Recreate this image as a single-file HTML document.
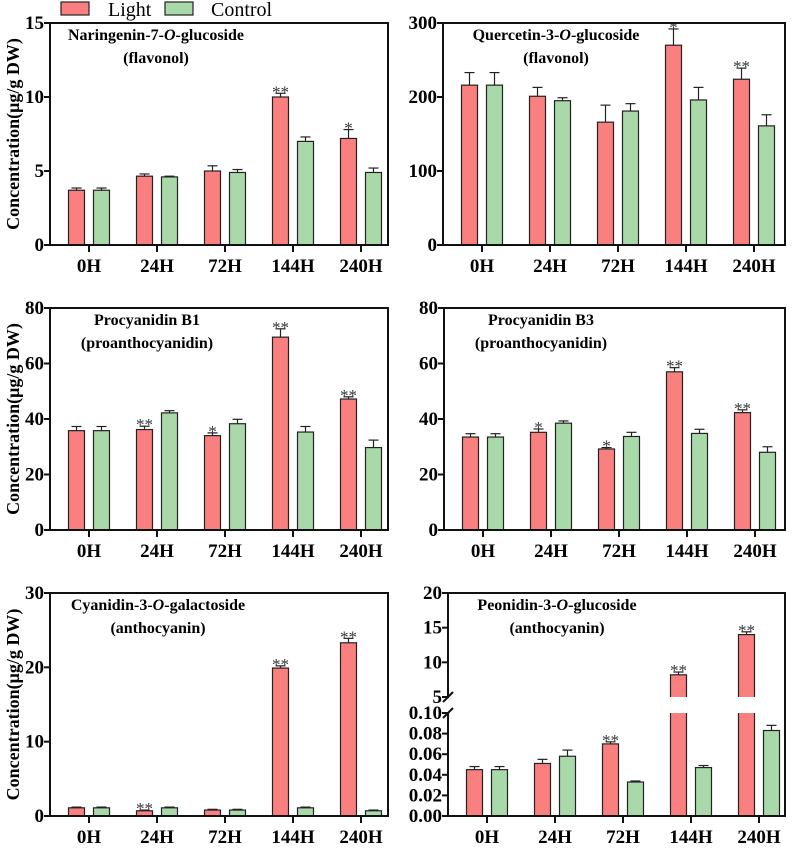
<!DOCTYPE html>
<html><head><meta charset="utf-8"><style>
html,body{margin:0;padding:0;background:#fff;}
svg, svg text{font-family:"Liberation Serif","DejaVu Serif",serif;}
</style></head><body>
<svg id="fig" width="792" height="846" viewBox="0 0 792 846" xmlns="http://www.w3.org/2000/svg">
  <g>
    <rect x="61" y="2" width="28" height="13" fill="#fa8080" stroke="#222" stroke-width="1.2"/>
    <text x="108" y="16" font-size="20" font-family="Liberation Serif, serif">Light</text>
    <rect x="165" y="2" width="28" height="13" fill="#a9d9a9" stroke="#222" stroke-width="1.2"/>
    <text x="211" y="16" font-size="20" font-family="Liberation Serif, serif">Control</text>
  </g>
</svg>
<script>
const categories=["0H","24H","72H","144H","240H"];
// Panel 1 Naringenin
const p1Light=[3.7,4.65,5.0,10.0,7.2], p1LightErr=[0.15,0.15,0.35,0.25,0.6];
const p1Ctrl=[3.7,4.6,4.9,7.0,4.9], p1CtrlErr=[0.15,0.05,0.2,0.3,0.3];
const p1Stars=["","","","**","*"];
const p1Ticks=[0,5,10,15];
// Panel 2 Quercetin
const p2Light=[216,201,166,270,224], p2LightErr=[17,12,23,22,15];
const p2Ctrl=[216,195,181,196,161], p2CtrlErr=[17,4,10,17,15];
const p2Stars=["","","","*","**"];
const p2Ticks=[0,100,200,300];
// Panel 3 Procyanidin B1
const p3Light=[35.8,36.2,34.0,69.5,47.2], p3LightErr=[1.5,1.2,1.0,3.0,0.8];
const p3Ctrl=[35.8,42.2,38.3,35.3,29.7], p3CtrlErr=[1.5,0.8,1.6,2.0,2.7];
const p3Stars=["","**","*","**","**"];
const p3Ticks=[0,20,40,60,80];
// Panel 4 Procyanidin B3
const p4Light=[33.5,35.2,29.2,57.0,42.3], p4LightErr=[1.2,1.2,0.5,1.5,1.0];
const p4Ctrl=[33.5,38.5,33.7,34.8,28.0], p4CtrlErr=[1.2,0.8,1.5,1.5,2.0];
const p4Stars=["","*","*","**","**"];
const p4Ticks=[0,20,40,60,80];
// Panel 5 Cyanidin
const p5Light=[1.1,0.7,0.8,19.9,23.3], p5LightErr=[0.1,0.1,0.1,0.3,0.6];
const p5Ctrl=[1.1,1.1,0.8,1.1,0.7], p5CtrlErr=[0.1,0.1,0.1,0.1,0.1];
const p5Stars=["","**","","**","**"];
const p5Ticks=[0,10,20,30];
// Panel 6 Peonidin (broken axis)
const p6Light=[0.045,0.051,0.070,8.2,14.0], p6LightErr=[0.003,0.004,0.002,0.4,0.4];
const p6Ctrl=[0.045,0.058,0.033,0.047,0.083], p6CtrlErr=[0.003,0.006,0.001,0.002,0.005];
const p6Stars=["","","**","**","**"];
const p6LowTicks=[0,0.02,0.04,0.06,0.08,0.10];
const p6HighTicks=[5,10,15,20];

const NS="http://www.w3.org/2000/svg";
const FONT="Liberation Serif, DejaVu Serif, serif";
const svg=document.getElementById("fig");
function mk(tag,attrs,parent){const e=document.createElementNS(NS,tag);for(const k in attrs)e.setAttribute(k,attrs[k]);if(tag==="text")e.setAttribute("font-family",FONT);(parent||svg).appendChild(e);return e;}
const RED="#fa8080", GREEN="#a9d9a9";

function panel(cfg){
  const g=mk("g",{});
  
  
  const {L,R,T,B}=cfg;
  const y=cfg.yFn;
  const xc=i=>L+39+i*68;
  const series=[[cfg.light,cfg.lightErr,RED,-12.5,"light"],[cfg.ctrl,cfg.ctrlErr,GREEN,12.5,"control"]];
  series.forEach(([vals,errs,col,off,nm])=>{
    vals.forEach((v,i)=>{
      const cx=xc(i)+off, top=y(v), et=y(v+errs[i]);
      const eb=mk("line",{x1:cx,x2:cx,y1:top,y2:et,stroke:"#222","stroke-width":1.2},g);
      
      
      const ec=mk("line",{x1:cx-5,x2:cx+5,y1:et,y2:et,stroke:"#222","stroke-width":1.2},g);
      
      
      const r=mk("rect",{x:cx-8,y:top,width:16,height:B-top,fill:col,stroke:"#222","stroke-width":1.2},g);
      
      
      if(nm==="light"&&cfg.stars[i]){
        const s=mk("text",{x:cx,y:et+4,"text-anchor":"middle","font-size":17,fill:"#333"},g);
        s.textContent=cfg.stars[i];
        
        
      }
    });
  });
  if(cfg.gap){
    const gr=mk("rect",{x:L+1,y:cfg.gap[0],width:R-L-2,height:cfg.gap[1]-cfg.gap[0],fill:"#fff"},g);
    
    
  }
  const fr=mk("rect",{x:L,y:T,width:R-L,height:B-T,fill:"none",stroke:"#111","stroke-width":2},g);
  
  
  if(cfg.gap){
    mk("rect",{x:L-6,y:cfg.gap[0]+1,width:10,height:cfg.gap[1]-cfg.gap[0]-2,fill:"#fff"},g);
    [cfg.gap[0],cfg.gap[1]].forEach(yy=>{
      const bl=mk("line",{x1:L-5,y1:yy+5,x2:L+5,y2:yy-5,stroke:"#111","stroke-width":2},g);
      
      
    });
  }
  cfg.ticks.forEach(([v,lab])=>{
    const yy=y(v);
    mk("line",{x1:L-6,x2:L,y1:yy,y2:yy,stroke:"#111","stroke-width":2},g);
    const t=mk("text",{x:L-6,y:yy+6,"text-anchor":"end","font-size":19,"font-weight":"bold"},g);
    t.textContent=lab;
    
    
  });
  categories.forEach((c,i)=>{
    mk("line",{x1:xc(i),x2:xc(i),y1:B,y2:B+7,stroke:"#111","stroke-width":2},g);
    const t=mk("text",{x:xc(i),y:B+27,"text-anchor":"middle","font-size":19,"font-weight":"bold"},g);
    t.textContent=c;
    
    
  });
  const t1=mk("text",{x:cfg.tx,y:T+17,"text-anchor":"middle","font-size":16,"font-weight":"bold"},g);
  t1.innerHTML=cfg.t1;
  
  
  const t2=mk("text",{x:cfg.tx,y:T+40,"text-anchor":"middle","font-size":16,"font-weight":"bold"},g);
  t2.textContent=cfg.t2;
  
  
  if(cfg.ylab){
    const cy=(T+B)/2;
    const yl=mk("text",{x:19,y:cy,"text-anchor":"middle","font-size":18,"font-weight":"bold",transform:`rotate(-90 19 ${cy})`},g);
    yl.textContent="Concentration(μg/g DW)";
    
    
  }
}
function lin(T,B,max){return v=>B-(v/max)*(B-T);}
const fmt=v=>String(v);
panel({name:"panel-naringenin",L:50,R:388,T:23,B:245,yFn:lin(23,245,15),ticks:p1Ticks.map(v=>[v,fmt(v)]),light:p1Light,lightErr:p1LightErr,ctrl:p1Ctrl,ctrlErr:p1CtrlErr,stars:p1Stars,tx:156,t1:'Naringenin-7-<tspan font-style="italic">O</tspan>-glucoside',t2:"(flavonol)",ylab:true});
panel({name:"panel-quercetin",L:443,R:785,T:23,B:245,yFn:lin(23,245,300),ticks:p2Ticks.map(v=>[v,fmt(v)]),light:p2Light,lightErr:p2LightErr,ctrl:p2Ctrl,ctrlErr:p2CtrlErr,stars:p2Stars,tx:556,t1:'Quercetin-3-<tspan font-style="italic">O</tspan>-glucoside',t2:"(flavonol)",ylab:false});
panel({name:"panel-procyanidin-b1",L:50,R:388,T:308,B:530,yFn:lin(308,530,80),ticks:p3Ticks.map(v=>[v,fmt(v)]),light:p3Light,lightErr:p3LightErr,ctrl:p3Ctrl,ctrlErr:p3CtrlErr,stars:p3Stars,tx:147,t1:'Procyanidin B1',t2:"(proanthocyanidin)",ylab:true});
panel({name:"panel-procyanidin-b3",L:444,R:785,T:308,B:530,yFn:lin(308,530,80),ticks:p4Ticks.map(v=>[v,fmt(v)]),light:p4Light,lightErr:p4LightErr,ctrl:p4Ctrl,ctrlErr:p4CtrlErr,stars:p4Stars,tx:541,t1:'Procyanidin B3',t2:"(proanthocyanidin)",ylab:false});
panel({name:"panel-cyanidin",L:50,R:388,T:593,B:816,yFn:lin(593,816,30),ticks:p5Ticks.map(v=>[v,fmt(v)]),light:p5Light,lightErr:p5LightErr,ctrl:p5Ctrl,ctrlErr:p5CtrlErr,stars:p5Stars,tx:158,t1:'Cyanidin-3-<tspan font-style="italic">O</tspan>-galactoside',t2:"(anthocyanin)",ylab:true});
const p6y=v=> v<=0.1 ? 816-(v/0.1)*(816-713) : 697-((v-5)/15)*(697-593);
panel({name:"panel-peonidin",L:448,R:785,T:593,B:816,yFn:p6y,gap:[697,713],ticks:p6LowTicks.map(v=>[v,v.toFixed(2)]).concat(p6HighTicks.map(v=>[v,fmt(v)])),light:p6Light,lightErr:p6LightErr,ctrl:p6Ctrl,ctrlErr:p6CtrlErr,stars:p6Stars,tx:557,t1:'Peonidin-3-<tspan font-style="italic">O</tspan>-glucoside',t2:"(anthocyanin)",ylab:false});
</script>
</body></html>
